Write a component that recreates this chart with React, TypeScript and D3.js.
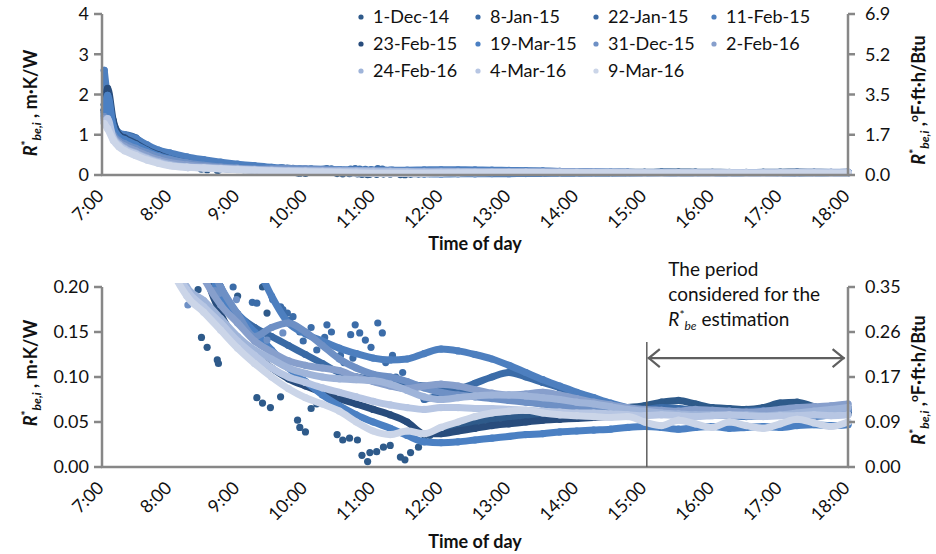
import React from "react";
import * as d3 from "d3";

// time of day in minutes after midnight
const times = [
  422, 425, 430, 435, 440, 450, 460, 470, 480,
  495, 510, 525, 540, 555, 570, 585, 600, 615, 630, 645, 660, 675, 690, 705, 720,
  735, 750, 765, 780, 795, 810, 825, 840, 855, 870, 885, 900, 915, 930, 945, 960, 975, 990, 1005, 1020, 1035, 1050, 1065, 1080,
];

const seriesNames = [
  "1-Dec-14", "8-Jan-15", "22-Jan-15", "11-Feb-15",
  "23-Feb-15", "19-Mar-15", "31-Dec-15", "2-Feb-16",
  "24-Feb-16", "4-Mar-16", "9-Mar-16",
];

const seriesColors = [
  "#2e5a8a", "#3b6ca8", "#3a6aa5", "#4d7fbf",
  "#284c7c", "#4b80c3", "#6e90c5", "#879fcc",
  "#9fb4d9", "#b7c6e3", "#cbd5e8",
];

// R*be,i in m·K/W
const dec1_14 = [
  1.75, 1.65, 1.15, 0.95, 0.9, 0.78, 0.62, 0.52, 0.45,
  0.36, 0.3, 0.25, null, null, null, null, null, null, null, null, null, null, null, null, 0.04,
  0.045, 0.05, 0.053, 0.055, 0.057, 0.058, 0.06, 0.062, 0.063, 0.065, 0.066, 0.068, 0.072, 0.074, 0.07, 0.066, 0.065, 0.064, 0.066, 0.071, 0.072, 0.067, 0.064, 0.066,
];
const jan8_15 = [
  1.62, 1.5, 1.1, 0.98, 1.0, 0.92, 0.7, 0.58, 0.5,
  0.42, 0.35, 0.29, 0.25, 0.22, null, null, null, null, null, null, null, null, null, 0.075, 0.08,
  0.086, 0.093, 0.1, 0.105, 0.1, 0.094, 0.088, 0.08, 0.074, 0.068, 0.065, 0.064, 0.066, 0.065, 0.063, 0.062, 0.06, 0.062, 0.063, 0.062, 0.064, 0.063, 0.062, 0.064,
];
const jan22_15 = [
  1.55, 1.35, 1.05, 0.9, 0.85, 0.72, 0.6, 0.5, 0.42,
  0.32, 0.25, 0.2, 0.17, 0.155, 0.145, 0.135, 0.125, 0.115, 0.105, 0.1, 0.097, 0.095, 0.092, 0.09, 0.088,
  0.086, 0.084, 0.08, 0.076, 0.073, 0.07, 0.068, 0.066, 0.065, 0.064, 0.063, 0.062, 0.063, 0.061, 0.06, 0.061, 0.062, 0.061, 0.06, 0.061, 0.062, 0.061, 0.06, 0.061,
];
const feb11_15 = [
  2.6, 1.9, 1.3, 1.05, 1.0, 0.9, 0.75, 0.62, 0.55,
  0.45, 0.38, 0.32, 0.27, 0.23, 0.19, 0.16, 0.148, 0.14, 0.132, 0.126, 0.121, 0.119, 0.12, 0.126, 0.131,
  0.129, 0.125, 0.12, 0.113, 0.105, 0.097, 0.09, 0.083, 0.077, 0.071, 0.066, 0.062, 0.06, 0.058, 0.057, 0.058, 0.057, 0.056, 0.057, 0.058, 0.057, 0.056, 0.058, 0.06,
];
const feb23_15 = [
  1.6, 2.15, 1.35, 1.0, 0.92, 0.78, 0.62, 0.5, 0.4,
  0.3, 0.22, 0.17, 0.14, 0.125, 0.11, 0.098, 0.09, 0.083, 0.076, 0.07, 0.064, 0.058, 0.05, 0.037, 0.037,
  0.04, 0.043, 0.046, 0.048, 0.05, 0.052, 0.053, 0.054, 0.055, 0.056, 0.057, 0.058, 0.06, 0.061, 0.06, 0.059, 0.06, 0.061, 0.06, 0.059, 0.06, 0.061, 0.06, 0.059,
];
const mar19_15 = [
  1.5, 1.98, 1.2, 0.95, 0.88, 0.75, 0.6, 0.48, 0.4,
  0.3, 0.24, 0.19, 0.17, 0.15, 0.13, 0.11, 0.095, 0.08, 0.068, 0.058, 0.05, 0.043, 0.035, 0.028, 0.027,
  0.028, 0.03, 0.032, 0.034, 0.036, 0.037, 0.039, 0.04, 0.041, 0.042, 0.044, 0.045, 0.044, 0.042, 0.044, 0.045, 0.043, 0.044, 0.045, 0.044, 0.046, 0.047, 0.046, 0.047,
];
const dec31_15 = [
  1.45, 1.3, 1.0, 0.85, 0.78, 0.66, 0.55, 0.45, 0.38,
  0.3, 0.24, 0.2, 0.17, 0.145, 0.155, 0.16, 0.15, 0.135, 0.12, 0.11, 0.103, 0.1, 0.095, 0.088, 0.083,
  0.08, 0.078, 0.076, 0.074, 0.072, 0.07, 0.068, 0.067, 0.066, 0.065, 0.064, 0.062, 0.061, 0.06, 0.061, 0.06, 0.059, 0.06, 0.061, 0.062, 0.061, 0.06, 0.062, 0.063,
];
const feb2_16 = [
  1.4, 1.25, 0.95, 0.8, 0.72, 0.6, 0.48, 0.38, 0.31,
  0.25, 0.21, 0.18, 0.16, 0.14, 0.128, 0.118, 0.113, 0.11, 0.107, 0.1, 0.095, 0.09, 0.087, 0.09, 0.092,
  0.09, 0.086, 0.082, 0.08, 0.081, 0.083, 0.08, 0.076, 0.072, 0.069, 0.066, 0.064, 0.063, 0.062, 0.064, 0.063, 0.062, 0.061, 0.062, 0.064, 0.066, 0.067, 0.068, 0.07,
];
const feb24_16 = [
  1.35, 1.2, 0.92, 0.76, 0.66, 0.54, 0.42, 0.33, 0.26,
  0.2, 0.185, 0.165, 0.145, 0.13, 0.12, 0.11, 0.104, 0.1, 0.098, 0.097, 0.096, 0.092, 0.085, 0.078, 0.075,
  0.077, 0.079, 0.08, 0.08, 0.079, 0.077, 0.075, 0.072, 0.07, 0.067, 0.064, 0.062, 0.06, 0.059, 0.058, 0.058, 0.057, 0.058, 0.057, 0.058, 0.06, 0.062, 0.064, 0.066,
];
const mar4_16 = [
  1.3, 1.4, 0.9, 0.74, 0.64, 0.52, 0.4, 0.31, 0.24,
  0.197, 0.178, 0.16, 0.14, 0.124, 0.11, 0.1, 0.094, 0.088, 0.083, 0.078, 0.073, 0.069, 0.066, 0.064, 0.066,
  0.066, 0.065, 0.065, 0.064, 0.063, 0.062, 0.061, 0.06, 0.06, 0.059, 0.058, 0.057, 0.058, 0.057, 0.056, 0.057, 0.058, 0.057, 0.056, 0.057, 0.057, 0.058, 0.057, 0.058,
];
const mar9_16 = [
  1.28, 1.15, 0.86, 0.7, 0.6, 0.48, 0.37, 0.29, 0.23,
  0.19, 0.172, 0.152, 0.132, 0.115, 0.1, 0.087, 0.077, 0.07, 0.062, 0.05, 0.04, 0.036, 0.04, 0.037, 0.044,
  0.05, 0.056, 0.06, 0.062, 0.063, 0.06, 0.058, 0.057, 0.056, 0.055, 0.056, 0.05, 0.046, 0.052, 0.048, 0.044, 0.05, 0.046, 0.043, 0.048, 0.053, 0.049, 0.045, 0.05,
];

const seriesValues = [
  dec1_14, jan8_15, jan22_15, feb11_15, feb23_15, mar19_15,
  dec31_15, feb2_16, feb24_16, mar4_16, mar9_16,
];

// scattered readings: [series index, minute, value]
const scatter: [number, number, number][] = [
  [0, 505, 0.197], [0, 522, 0.18], [0, 520, 0.171], [0, 508, 0.144], [0, 513, 0.133],
  [0, 522, 0.119], [0, 523, 0.115], [0, 539, 0.138], [0, 545, 0.136], [0, 548, 0.154],
  [0, 540, 0.19], [0, 562, 0.2], [0, 566, 0.171], [0, 557, 0.077], [0, 562, 0.071],
  [0, 569, 0.066], [0, 578, 0.078], [0, 593, 0.052], [0, 595, 0.044], [0, 600, 0.039],
  [0, 605, 0.065], [0, 610, 0.07], [0, 628, 0.036], [0, 633, 0.03], [0, 639, 0.032],
  [0, 646, 0.03], [0, 650, 0.013], [0, 655, 0.006], [0, 657, 0.016], [0, 663, 0.017],
  [0, 669, 0.022], [0, 675, 0.024], [0, 684, 0.011], [0, 688, 0.008], [0, 693, 0.016],
  [0, 700, 0.022], [0, 705, 0.03], [0, 710, 0.035],
  [1, 536, 0.2], [1, 553, 0.183], [1, 557, 0.182], [1, 571, 0.186], [1, 578, 0.178],
  [1, 580, 0.175], [1, 584, 0.171], [1, 586, 0.163], [1, 589, 0.167], [1, 595, 0.15],
  [1, 598, 0.14], [1, 605, 0.155], [1, 610, 0.13], [1, 617, 0.144], [1, 619, 0.158],
  [1, 623, 0.15], [1, 631, 0.124], [1, 634, 0.116], [1, 640, 0.147], [1, 642, 0.121],
  [1, 644, 0.158], [1, 648, 0.149], [1, 653, 0.141], [1, 658, 0.133], [1, 664, 0.16],
  [1, 668, 0.149], [1, 671, 0.116], [1, 677, 0.124], [1, 680, 0.1], [1, 686, 0.105],
  [6, 496, 0.18], [6, 520, 0.196], [6, 524, 0.193], [6, 539, 0.186], [6, 566, 0.141],
  [6, 580, 0.149],
];

const xTicks = [420, 480, 540, 600, 660, 720, 780, 840, 900, 960, 1020, 1080];
const xTickLabels = ["7:00", "8:00", "9:00", "10:00", "11:00", "12:00", "13:00", "14:00", "15:00", "16:00", "17:00", "18:00"];

const topTicks = [0, 1, 2, 3, 4];
const topLeftLabels = ["0", "1", "2", "3", "4"];
const topRightLabels = ["0.0", "1.7", "3.5", "5.2", "6.9"];
const bottomTicks = [0, 0.05, 0.1, 0.15, 0.2];
const bottomLeftLabels = ["0.00", "0.05", "0.10", "0.15", "0.20"];
const bottomRightLabels = ["0.00", "0.09", "0.17", "0.26", "0.35"];

const W = 936;
const H = 554;
const FONT = "Lato, 'Open Sans', sans-serif";
const AXIS = "#878787";
const X0 = 102;
const X1 = 848;

const x = d3.scaleLinear().domain([420, 1080]).range([X0, X1]);

type Pt = [number, number | null];

function Series({ y, id }: { y: d3.ScaleLinear<number, number>; id: string }) {
  const line = d3
    .line<Pt>()
    .defined((d) => d[1] != null)
    .x((d) => x(d[0]))
    .y((d) => y(d[1] as number))
    .curve(d3.curveMonotoneX);
  return (
    <g clipPath={`url(#${id})`}>
      {seriesValues.map((vals, si) => {
        const pts: Pt[] = times.map((t, i) => [t, vals[i]]);
        return (
          <g key={si} fill={seriesColors[si]}>
            {scatter
              .filter((d) => d[0] === si)
              .map((d, k) => (
                <circle key={"s" + k} cx={x(d[1])} cy={y(d[2])} r={3.6} />
              ))}
            <path
              d={line(pts) || ""}
              fill="none"
              stroke={seriesColors[si]}
              strokeWidth={7}
              strokeLinecap="round"
              strokeLinejoin="round"
            />
            {pts
              .filter((d) => d[1] != null)
              .map((d, k) => (
                <circle key={k} cx={x(d[0])} cy={y(d[1] as number)} r={3.6} />
              ))}
          </g>
        );
      })}
    </g>
  );
}

function RLabel({ unit }: { unit: React.ReactNode }) {
  return (
    <>
      <tspan fontStyle="italic">R</tspan>
      <tspan fontSize={12} dy={-7}>*</tspan>
      <tspan fontSize={12} dy={11} fontStyle="italic">be,i</tspan>
      <tspan dy={-4}> ,</tspan>
      {unit}
    </>
  );
}

function Panel({
  y0,
  y1,
  domainMax,
  ticks,
  leftLabels,
  rightLabels,
  id,
  titleY,
  leftTitleY,
  rightTitleY,
}: {
  y0: number;
  y1: number;
  domainMax: number;
  ticks: number[];
  leftLabels: string[];
  rightLabels: string[];
  id: string;
  titleY: number;
  leftTitleY: number;
  rightTitleY: number;
}) {
  const y = d3.scaleLinear().domain([0, domainMax]).range([y0, y1]);
  return (
    <g>
      <defs>
        <clipPath id={id}>
          <rect x={X0 - 4} y={y1 - 4} width={X1 - X0 + 8} height={y0 - y1 + 8} />
        </clipPath>
      </defs>
      <Series y={y} id={id} />
      {/* axes */}
      <g stroke={AXIS} strokeWidth={2.5}>
        <line x1={X0} x2={X0} y1={y1} y2={y0} />
        <line x1={X1} x2={X1} y1={y1} y2={y0} />
        <line x1={X0 - 1} x2={X1 + 1} y1={y0} y2={y0} />
        {ticks.map((t, i) => (
          <g key={i}>
            <line x1={X0 - 8} x2={X0} y1={y(t)} y2={y(t)} />
            <line x1={X1} x2={X1 + 7} y1={y(t)} y2={y(t)} />
          </g>
        ))}
      </g>
      <g fontFamily={FONT} fontSize={18} fill="#111">
        {ticks.map((t, i) => (
          <text key={"l" + i} x={X0 - 13} y={y(t)} dy="0.35em" textAnchor="end">
            {leftLabels[i]}
          </text>
        ))}
        {ticks.map((t, i) => (
          <text key={"r" + i} x={X1 + 17} y={y(t)} dy="0.35em">
            {rightLabels[i]}
          </text>
        ))}
        {xTicks.map((t, i) => (
          <text
            key={"x" + i}
            transform={`translate(${x(t) + 3},${y0 + 22}) rotate(-45)`}
            textAnchor="end"
          >
            {xTickLabels[i]}
          </text>
        ))}
      </g>
      <g fontFamily={FONT} fontSize={18} fontWeight="bold" fill="#111">
        <text x={(X0 + X1) / 2} y={titleY} textAnchor="middle">
          Time of day
        </text>
        <text transform={`translate(37,${leftTitleY}) rotate(-90)`} textAnchor="middle">
          <RLabel unit={<tspan> m·K/W</tspan>} />
        </text>
        <text transform={`translate(925,${rightTitleY}) rotate(-90)`} textAnchor="middle">
          <RLabel
            unit={
              <>
                <tspan fontSize={12} dy={-7}>o</tspan>
                <tspan dy={7}>F·ft·h/Btu</tspan>
              </>
            }
          />
        </text>
      </g>
    </g>
  );
}

function Legend() {
  const colX = [361, 478, 596, 714];
  const rowY = [17, 44, 71];
  return (
    <g fontFamily={FONT} fontSize={18} fill="#111">
      {seriesNames.map((n, i) => {
        const cx = colX[i % 4];
        const cy = rowY[Math.floor(i / 4)];
        return (
          <g key={n}>
            <circle cx={cx} cy={cy} r={2.6} fill={seriesColors[i]} />
            <text x={cx + 12} y={cy} dy="0.35em">
              {n}
            </text>
          </g>
        );
      })}
    </g>
  );
}

function Annotation() {
  const y = d3.scaleLinear().domain([0, 0.2]).range([467, 287]);
  const xa = x(902);
  const xb = x(1077);
  const ya = y(0.121);
  return (
    <g>
      <g stroke="#5f5f5f" fill="none">
        <line x1={xa} x2={xa} y1={y(0.139)} y2={y(0)} strokeWidth={1.5} />
        <line x1={xa + 1} x2={xb} y1={ya} y2={ya} strokeWidth={2.2} />
        <polyline points={`${xa + 13},${ya - 9} ${xa + 2},${ya} ${xa + 13},${ya + 9}`} strokeWidth={2.2} />
        <polyline points={`${xb - 12},${ya - 9} ${xb - 1},${ya} ${xb - 12},${ya + 9}`} strokeWidth={2.2} />
      </g>
      <g fontFamily={FONT} fontSize={19} fill="#111">
        <text x={x(921)} y={276}>The period</text>
        <text x={x(921)} y={301}>considered for the</text>
        <text x={x(921)} y={326}>
          <tspan fontStyle="italic">R</tspan>
          <tspan fontSize={12} dy={-7}>*</tspan>
          <tspan fontSize={12} dy={11} fontStyle="italic">be</tspan>
          <tspan dy={-4}> estimation</tspan>
        </text>
      </g>
    </g>
  );
}

export default function App() {
  return (
    <svg
      width={W}
      height={H}
      style={{ position: "absolute", left: 0, top: 0, background: "#fff" }}
    >
      <Panel
        y0={175}
        y1={14}
        domainMax={4}
        ticks={topTicks}
        leftLabels={topLeftLabels}
        rightLabels={topRightLabels}
        id="clipTop"
        titleY={250}
        leftTitleY={103}
        rightTitleY={100}
      />
      <Legend />
      <Panel
        y0={467}
        y1={287}
        domainMax={0.2}
        ticks={bottomTicks}
        leftLabels={bottomLeftLabels}
        rightLabels={bottomRightLabels}
        id="clipBottom"
        titleY={548}
        leftTitleY={373}
        rightTitleY={380}
      />
      <Annotation />
    </svg>
  );
}
